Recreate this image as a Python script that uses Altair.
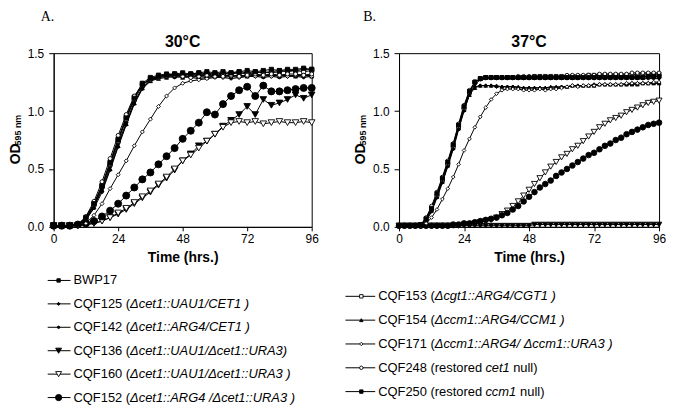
import altair as alt
import pandas as pd

# ---------------- data ----------------
T_A = [0, 3, 6, 9, 12, 15, 18, 21, 24, 27, 30, 33, 36, 39, 42, 45, 48,
       51, 54, 57, 60, 63, 66, 69, 72, 75, 78, 81, 84, 87, 90, 93, 96]
T_B = [0, 2, 4, 6, 8, 10, 12, 14, 16, 18, 20, 22, 24, 26, 28, 30, 32, 34,
       36, 38, 40, 42, 44, 46, 48, 50, 52, 54, 56, 58, 60, 62, 64, 66, 68,
       70, 72, 74, 76, 78, 80, 82, 84, 86, 88, 90, 92, 94, 96]

STRAINS = ["BWP17", "CQF125", "CQF142", "CQF136", "CQF160", "CQF152",
           "CQF153", "CQF154", "CQF171", "CQF248", "CQF250"]

# 30 C panel (A)
A_BWP17 = [0.01, 0.01, 0.01, 0.02, 0.08, 0.20, 0.36, 0.56, 0.76, 0.95, 1.12,
           1.24, 1.29, 1.31, 1.32, 1.32, 1.31, 1.32, 1.31, 1.32, 1.31, 1.32,
           1.32, 1.33, 1.32, 1.33, 1.34, 1.33, 1.34, 1.35, 1.35, 1.36, 1.36]
A_CQF125 = [0.01, 0.01, 0.01, 0.02, 0.07, 0.18, 0.33, 0.52, 0.72, 0.90, 1.08,
            1.20, 1.27, 1.30, 1.31, 1.30, 1.31, 1.30, 1.31, 1.30, 1.31, 1.30,
            1.31, 1.30, 1.31, 1.30, 1.31, 1.30, 1.31, 1.30, 1.31, 1.30, 1.31]
A_CQF142 = [0.01, 0.01, 0.01, 0.02, 0.06, 0.16, 0.30, 0.49, 0.69, 0.88, 1.06,
            1.19, 1.26, 1.29, 1.30, 1.29, 1.30, 1.29, 1.28, 1.29, 1.30, 1.29,
            1.28, 1.29, 1.30, 1.30, 1.29, 1.30, 1.29, 1.30, 1.30, 1.29, 1.30]
A_CQF136 = [0.01, 0.01, 0.01, 0.01, 0.02, 0.03, 0.05, 0.08, 0.11, 0.15, 0.20,
            0.25, 0.30, 0.36, 0.42, 0.49, 0.57, 0.63, 0.70, 0.74, 0.80, 0.87,
            0.92, 0.97, 1.04, 0.97, 1.10, 1.05, 1.07, 1.10, 1.14, 1.11, 1.14]
A_CQF160 = [0.01, 0.01, 0.01, 0.01, 0.02, 0.03, 0.05, 0.08, 0.12, 0.16, 0.21,
            0.26, 0.31, 0.37, 0.43, 0.50, 0.57, 0.62, 0.68, 0.74, 0.80, 0.86,
            0.90, 0.91, 0.90, 0.91, 0.89, 0.90, 0.91, 0.90, 0.90, 0.91, 0.90]
A_CQF152 = [0.01, 0.01, 0.01, 0.02, 0.03, 0.05, 0.09, 0.14, 0.20, 0.27, 0.34,
            0.41, 0.47, 0.54, 0.61, 0.68, 0.76, 0.83, 0.90, 0.99, 0.97, 1.06,
            1.13, 1.18, 1.21, 1.13, 1.22, 1.17, 1.17, 1.18, 1.19, 1.20, 1.20]
A_CQF153 = [0.01, 0.01, 0.01, 0.02, 0.07, 0.19, 0.35, 0.54, 0.74, 0.93, 1.10,
            1.22, 1.28, 1.30, 1.31, 1.32, 1.31, 1.32, 1.33, 1.32, 1.33, 1.32,
            1.33, 1.34, 1.33, 1.34, 1.33, 1.34, 1.35, 1.34, 1.35, 1.34, 1.35]
A_CQF154 = [0.01, 0.01, 0.01, 0.02, 0.06, 0.17, 0.32, 0.50, 0.70, 0.89, 1.07,
            1.20, 1.26, 1.28, 1.29, 1.30, 1.29, 1.30, 1.30, 1.29, 1.30, 1.31,
            1.30, 1.31, 1.30, 1.31, 1.30, 1.31, 1.30, 1.31, 1.30, 1.31, 1.30]
A_CQF171 = [0.01, 0.01, 0.01, 0.01, 0.03, 0.10, 0.20, 0.33, 0.45, 0.57, 0.70,
            0.82, 0.93, 1.04, 1.13, 1.20, 1.24, 1.26, 1.27, 1.28, 1.29, 1.29,
            1.30, 1.29, 1.30, 1.30, 1.31, 1.30, 1.31, 1.30, 1.31, 1.31, 1.30]
A_CQF248 = [0.01, 0.01, 0.01, 0.02, 0.09, 0.22, 0.39, 0.59, 0.79, 0.97, 1.13,
            1.23, 1.27, 1.29, 1.30, 1.31, 1.30, 1.29, 1.30, 1.31, 1.30, 1.30,
            1.31, 1.30, 1.31, 1.32, 1.31, 1.32, 1.31, 1.32, 1.32, 1.31, 1.32]
A_CQF250 = [0.01, 0.01, 0.01, 0.02, 0.08, 0.20, 0.35, 0.55, 0.75, 0.94, 1.11,
            1.23, 1.28, 1.30, 1.31, 1.32, 1.33, 1.32, 1.33, 1.34, 1.33, 1.34,
            1.33, 1.34, 1.35, 1.34, 1.35, 1.36, 1.35, 1.36, 1.36, 1.37, 1.36]

# 37 C panel (B)
B_BWP17 = [0.01, 0.01, 0.01, 0.01, 0.02, 0.07, 0.16, 0.28, 0.41, 0.55,
           0.70, 0.87, 1.03, 1.17, 1.25, 1.28, 1.29, 1.29, 1.29, 1.29,
           1.29, 1.29, 1.29, 1.29, 1.29, 1.29, 1.29, 1.29, 1.29, 1.29,
           1.29, 1.29, 1.29, 1.29, 1.30, 1.30, 1.30, 1.30, 1.30, 1.30,
           1.30, 1.30, 1.30, 1.30, 1.30, 1.30, 1.30, 1.30, 1.30]
B_CQF125 = [0.01, 0.01, 0.01, 0.01, 0.02, 0.06, 0.15, 0.27, 0.40, 0.54,
            0.69, 0.86, 1.02, 1.15, 1.21, 1.22, 1.22, 1.22, 1.21, 1.21,
            1.21, 1.21, 1.20, 1.20, 1.20, 1.20, 1.20, 1.20, 1.20, 1.20,
            1.21, 1.21, 1.22, 1.22, 1.22, 1.22, 1.23, 1.23, 1.23, 1.23,
            1.23, 1.23, 1.23, 1.24, 1.24, 1.24, 1.24, 1.24, 1.24]
B_CQF142 = [0.01, 0.01, 0.01, 0.01, 0.02, 0.05, 0.13, 0.25, 0.38, 0.52,
            0.67, 0.84, 1.00, 1.14, 1.23, 1.27, 1.28, 1.28, 1.28, 1.28,
            1.28, 1.28, 1.28, 1.28, 1.28, 1.28, 1.28, 1.28, 1.28, 1.28,
            1.28, 1.28, 1.28, 1.28, 1.28, 1.28, 1.28, 1.28, 1.28, 1.28,
            1.28, 1.28, 1.28, 1.28, 1.28, 1.28, 1.28, 1.28, 1.28]
B_CQF136 = [0.01, 0.01, 0.01, 0.01, 0.01, 0.01, 0.01, 0.01, 0.01, 0.01,
            0.01, 0.01, 0.01, 0.01, 0.01, 0.01, 0.01, 0.01, 0.01, 0.01,
            0.01, 0.01, 0.01, 0.01, 0.01, 0.02, 0.02, 0.02, 0.02, 0.02,
            0.02, 0.02, 0.02, 0.02, 0.02, 0.02, 0.02, 0.02, 0.02, 0.02,
            0.02, 0.02, 0.02, 0.02, 0.02, 0.02, 0.02, 0.02, 0.02]
B_CQF160 = [0.01, 0.01, 0.01, 0.01, 0.01, 0.01, 0.01, 0.01, 0.01, 0.01,
            0.01, 0.01, 0.02, 0.02, 0.03, 0.04, 0.05, 0.06, 0.08, 0.11,
            0.14, 0.18, 0.22, 0.27, 0.32, 0.37, 0.42, 0.47, 0.52, 0.56,
            0.60, 0.63, 0.67, 0.70, 0.74, 0.78, 0.82, 0.86, 0.89, 0.92,
            0.94, 0.96, 0.99, 1.01, 1.03, 1.05, 1.07, 1.08, 1.09]
B_CQF152 = [0.01, 0.01, 0.01, 0.01, 0.01, 0.01, 0.01, 0.01, 0.01, 0.01,
            0.02, 0.02, 0.03, 0.03, 0.04, 0.05, 0.06, 0.07, 0.08, 0.10,
            0.12, 0.15, 0.18, 0.22, 0.26, 0.30, 0.34, 0.37, 0.40, 0.44,
            0.47, 0.50, 0.53, 0.56, 0.59, 0.62, 0.64, 0.67, 0.70, 0.72,
            0.75, 0.77, 0.80, 0.82, 0.84, 0.86, 0.88, 0.89, 0.90]
B_CQF153 = [0.01, 0.01, 0.01, 0.01, 0.02, 0.06, 0.15, 0.27, 0.40, 0.54,
            0.69, 0.86, 1.02, 1.16, 1.25, 1.28, 1.29, 1.29, 1.29, 1.29,
            1.29, 1.29, 1.29, 1.29, 1.29, 1.30, 1.30, 1.30, 1.30, 1.30,
            1.30, 1.30, 1.30, 1.30, 1.30, 1.31, 1.31, 1.31, 1.31, 1.31,
            1.31, 1.31, 1.31, 1.31, 1.32, 1.32, 1.32, 1.32, 1.32]
B_CQF154 = [0.01, 0.01, 0.01, 0.01, 0.02, 0.06, 0.14, 0.26, 0.39, 0.53,
            0.68, 0.85, 1.01, 1.14, 1.20, 1.22, 1.22, 1.22, 1.22, 1.21,
            1.21, 1.21, 1.21, 1.20, 1.20, 1.20, 1.20, 1.20, 1.21, 1.21,
            1.21, 1.21, 1.22, 1.22, 1.22, 1.22, 1.22, 1.23, 1.23, 1.23,
            1.23, 1.23, 1.23, 1.23, 1.23, 1.24, 1.24, 1.24, 1.24]
B_CQF171 = [0.01, 0.01, 0.01, 0.01, 0.01, 0.03, 0.08, 0.15, 0.24, 0.33,
            0.43, 0.54, 0.66, 0.76, 0.86, 0.95, 1.03, 1.10, 1.15, 1.18,
            1.19, 1.19, 1.19, 1.18, 1.18, 1.18, 1.19, 1.18, 1.19, 1.19,
            1.20, 1.21, 1.22, 1.21, 1.22, 1.22, 1.22, 1.23, 1.23, 1.23,
            1.23, 1.23, 1.24, 1.24, 1.24, 1.24, 1.24, 1.25, 1.25]
B_CQF248 = [0.01, 0.01, 0.01, 0.01, 0.02, 0.08, 0.18, 0.30, 0.43, 0.57,
            0.72, 0.89, 1.05, 1.18, 1.25, 1.28, 1.29, 1.29, 1.29, 1.29,
            1.29, 1.29, 1.30, 1.30, 1.30, 1.30, 1.30, 1.30, 1.30, 1.30,
            1.30, 1.31, 1.31, 1.31, 1.31, 1.31, 1.31, 1.32, 1.32, 1.32,
            1.32, 1.32, 1.32, 1.33, 1.33, 1.33, 1.33, 1.33, 1.33]
B_CQF250 = [0.01, 0.01, 0.01, 0.01, 0.02, 0.07, 0.16, 0.29, 0.42, 0.56,
            0.71, 0.88, 1.04, 1.17, 1.25, 1.28, 1.29, 1.29, 1.29, 1.29,
            1.29, 1.29, 1.29, 1.29, 1.29, 1.29, 1.29, 1.29, 1.29, 1.29,
            1.29, 1.29, 1.29, 1.29, 1.29, 1.29, 1.29, 1.29, 1.29, 1.29,
            1.29, 1.29, 1.29, 1.29, 1.29, 1.29, 1.30, 1.30, 1.30]

A_SERIES = [A_BWP17, A_CQF125, A_CQF142, A_CQF136, A_CQF160, A_CQF152,
            A_CQF153, A_CQF154, A_CQF171, A_CQF248, A_CQF250]
B_SERIES = [B_BWP17, B_CQF125, B_CQF142, B_CQF136, B_CQF160, B_CQF152,
            B_CQF153, B_CQF154, B_CQF171, B_CQF248, B_CQF250]

# legend texts
LEG_A_NAMES = ["BWP17", "CQF125", "CQF142", "CQF136", "CQF160", "CQF152"]
LEG_A_PREFIX = ["BWP17", "CQF125 (", "CQF142 (", "CQF136 (", "CQF160 (", "CQF152 ("]
LEG_A_ITALIC = ["", "\u0394cet1::UAU1/CET1 )", "\u0394cet1::ARG4/CET1 )",
                "\u0394cet1::UAU1/\u0394cet1::URA3)", "\u0394cet1::UAU1/\u0394cet1::URA3 )",
                "\u0394cet1::ARG4 /\u0394cet1::URA3 )"]
LEG_A_SUFFIX = ["", "", "", "", "", ""]
LEG_B_NAMES = ["CQF153", "CQF154", "CQF171", "CQF248", "CQF250"]
LEG_B_PREFIX = ["CQF153 (", "CQF154 (", "CQF171 (", "CQF248 (restored", "CQF250 (restored"]
LEG_B_ITALIC = ["\u0394cgt1::ARG4/CGT1 )", "\u0394ccm1::ARG4/CCM1 )",
                "\u0394ccm1::ARG4/ \u0394ccm1::URA3 )", "cet1", "ccm1"]
LEG_B_SUFFIX = ["", "", "", "null)", "null)"]

# ---------------- styles ----------------
FONT = "Liberation Sans"
STYLE = {  # shape, filled-black?, size A, size B, legend size
    "BWP17": ("square", True, 18, 14, 12),
    "CQF125": ("diamond", True, 14, 12, 10),
    "CQF142": ("circle", True, 8, 6, 6),
    "CQF136": ("triangle-down", True, 44, 30, 36),
    "CQF160": ("triangle-down", False, 44, 36, 36),
    "CQF152": ("circle", True, 50, 32, 40),
    "CQF153": ("square", False, 16, 14, 12),
    "CQF154": ("triangle-up", True, 16, 14, 12),
    "CQF171": ("diamond", False, 16, 14, 12),
    "CQF248": ("circle", False, 16, 14, 12),
    "CQF250": ("square", True, 18, 16, 12),
}


def long_df(times, series):
    rows = []
    for name, vals in zip(STRAINS, series):
        assert len(vals) == len(times), (name, len(vals))
        for t, v in zip(times, vals):
            rows.append({"strain": name, "t": t, "od": v})
    return pd.DataFrame(rows)


def legend_df(names, prefix, italic, suffix, y0, dy, xtext, ital_dx, suf_dx):
    rows = []
    for i, (n, p, it, s) in enumerate(zip(names, prefix, italic, suffix)):
        rows.append({"strain": n, "prefix": p, "ital": it, "suffix": s,
                     "ly": y0 + dy * i, "xp": xtext,
                     "xi": xtext + ital_dx[i], "xs": xtext + suf_dx[i]})
    return pd.DataFrame(rows)


def panel(df, width, title, letter, size_idx, leg, leg_line, leg_marker, ylabpad):
    x = alt.X("t:Q", scale=alt.Scale(domain=[0, 96], nice=False),
              axis=alt.Axis(values=[0, 24, 48, 72, 96], title="Time (hrs.)",
                            tickSize=4, labelPadding=3, titlePadding=6,
                            labelFlush=False))
    y = alt.Y("od:Q", scale=alt.Scale(domain=[0, 1.5], nice=False),
              axis=alt.Axis(values=[0, 0.5, 1.0, 1.5], format=".1f", title=None,
                            tickSize=5, labelPadding=ylabpad, labelFlush=False))
    layers = [alt.Chart(df).mark_line(color="black", strokeWidth=1).encode(
        x=x, y=y, detail="strain:N")]
    for s in STRAINS:
        shp, filled, sa, sb, sl = STYLE[s]
        size = sa if size_idx == 0 else sb
        layers.append(
            alt.Chart(df).transform_filter(alt.datum.strain == s).mark_point(
                shape=shp, size=size, filled=True,
                fill="black" if filled else "white", stroke="black",
                strokeWidth=0.9, opacity=1).encode(x=x, y=y))
    # legend
    ly = alt.Y("ly:Q", scale=None, axis=None)
    layers.append(alt.Chart(leg).mark_rule(color="black", strokeWidth=1).encode(
        x=alt.value(leg_line[0]), x2=alt.value(leg_line[1]), y=ly))
    for s in leg["strain"]:
        shp, filled, sa, sb, sl = STYLE[s]
        layers.append(
            alt.Chart(leg).transform_filter(alt.datum.strain == s).mark_point(
                shape=shp, size=sl, filled=True,
                fill="black" if filled else "white", stroke="black",
                strokeWidth=0.9, opacity=1).encode(x=alt.value(leg_marker), y=ly))
    txt = dict(align="left", baseline="middle", fontSize=13, font=FONT, color="black")
    layers.append(alt.Chart(leg).mark_text(**txt).encode(
        x=alt.X("xp:Q", scale=None, axis=None), y=ly, text="prefix:N"))
    layers.append(alt.Chart(leg).mark_text(fontStyle="italic", **txt).encode(
        x=alt.X("xi:Q", scale=None, axis=None), y=ly, text="ital:N"))
    layers.append(alt.Chart(leg).mark_text(**txt).encode(
        x=alt.X("xs:Q", scale=None, axis=None), y=ly, text="suffix:N"))
    # panel title, panel letter, y-axis title with subscript
    lab = pd.DataFrame([{"od_t": "OD", "sub": "595 nm", "letter": letter,
                         "title": title}])
    layers.append(alt.Chart(lab).mark_text(
        align="center", baseline="alphabetic", fontSize=16, fontWeight="bold",
        font=FONT, color="black").encode(
        x=alt.value(width / 2), y=alt.value(-6), text="title:N"))
    layers.append(alt.Chart(lab).mark_text(
        angle=270, align="left", baseline="alphabetic", fontSize=14,
        fontWeight="bold", font=FONT, color="black").encode(
        x=alt.value(-34), y=alt.value(112), text="od_t:N"))
    layers.append(alt.Chart(lab).mark_text(
        angle=270, align="left", baseline="alphabetic", fontSize=9,
        fontWeight="bold", font=FONT, color="black").encode(
        x=alt.value(-33), y=alt.value(93), text="sub:N"))
    layers.append(alt.Chart(lab).mark_text(
        align="left", baseline="alphabetic", fontSize=14,
        font="Liberation Serif", color="black").encode(
        x=alt.value(-13 if letter == "A." else -36), y=alt.value(-32),
        text="letter:N"))
    return alt.layer(*layers).properties(width=width, height=175)


df_a = long_df(T_A, A_SERIES)
df_b = long_df(T_B, B_SERIES)

leg_a = legend_df(LEG_A_NAMES, LEG_A_PREFIX, LEG_A_ITALIC, LEG_A_SUFFIX,
                  229, 23.6, 20, [0, 57, 57, 57, 57, 57], [0] * 6)
leg_b = legend_df(LEG_B_NAMES, LEG_B_PREFIX, LEG_B_ITALIC, LEG_B_SUFFIX,
                  245, 24, -21, [57, 57, 57, 108, 108], [0, 0, 0, 136, 143])

pa = panel(df_a, 260, "30\u00b0C", "A.", 0, leg_a, (-6, 17), 5, 5)
pb = panel(df_b, 262, "37\u00b0C", "B.", 1, leg_b, (-54, -24), -38, 5)

chart = alt.HConcatChart(hconcat=[pa, pb], spacing=88, bounds="flush").properties(
    padding=0
).configure_view(stroke="black", strokeWidth=1).configure_axis(
    domainColor="black", tickColor="black", labelColor="black",
    titleColor="black", labelFont=FONT, titleFont=FONT, labelFontSize=12,
    titleFontSize=14, titleFontWeight="bold", grid=False
)

chart.save("out.html", embed_options={"renderer": "svg", "actions": False})
